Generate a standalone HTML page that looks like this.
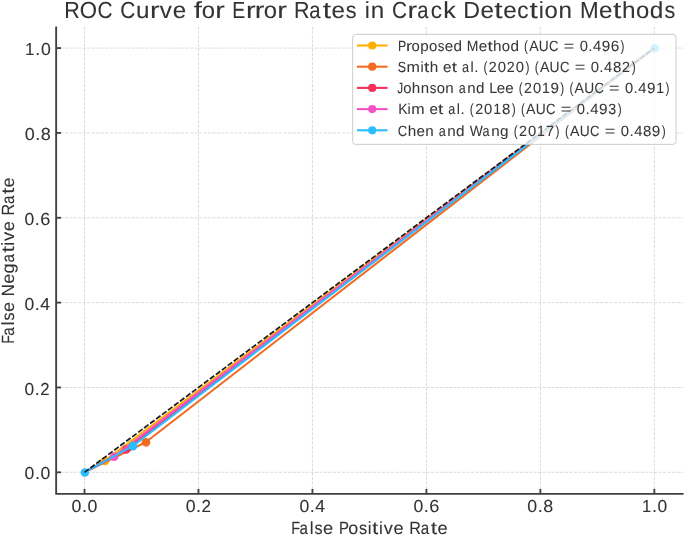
<!DOCTYPE html>
<html><head><meta charset="utf-8"><title>ROC Curve for Error Rates in Crack Detection Methods</title>
<style>
html,body{margin:0;padding:0;background:#fff;overflow:hidden;}
svg{display:block;filter:blur(0.3px);}
text{font-family:"Liberation Sans",sans-serif;fill:#333333;stroke:#333333;stroke-width:0.08px;text-rendering:geometricPrecision;}
.ti text{fill:#333333;stroke:#333333;stroke-width:0.08px;}
.lg text{fill:#363636;stroke:#363636;stroke-width:0.05px;}
</style></head>
<body>
<svg width="685" height="535" viewBox="0 0 685 535">
<rect x="0" y="0" width="685" height="535" fill="#fff"/>
<g stroke="#d4d4d4" stroke-width="0.85" fill="none">
<g stroke-dasharray="3.116 1.347" stroke-dashoffset="-0.05">
<line x1="84.52" y1="493.54" x2="84.52" y2="26.85"/>
<line x1="198.48" y1="493.54" x2="198.48" y2="26.85"/>
<line x1="312.45" y1="493.54" x2="312.45" y2="26.85"/>
<line x1="426.41" y1="493.54" x2="426.41" y2="26.85"/>
<line x1="540.38" y1="493.54" x2="540.38" y2="26.85"/>
<line x1="654.34" y1="493.54" x2="654.34" y2="26.85"/>
</g>
<g stroke-dasharray="3.116 1.347" stroke-dashoffset="-0.03">
<line x1="56.03" y1="472.33" x2="682.83" y2="472.33"/>
<line x1="56.03" y1="387.48" x2="682.83" y2="387.48"/>
<line x1="56.03" y1="302.62" x2="682.83" y2="302.62"/>
<line x1="56.03" y1="217.77" x2="682.83" y2="217.77"/>
<line x1="56.03" y1="132.91" x2="682.83" y2="132.91"/>
<line x1="56.03" y1="48.06" x2="682.83" y2="48.06"/>
</g>
</g>
<polyline points="84.52,472.33 104.65,460.91 654.34,48.06" fill="none" stroke="#FFAF00" stroke-width="2.08" stroke-linejoin="round" stroke-linecap="square"/>
<circle cx="105.00" cy="461.01" r="4.3" fill="#FFAF00"/>
<polyline points="84.52,472.33 145.66,442.23 654.34,48.06" fill="none" stroke="#F26B21" stroke-width="2.08" stroke-linejoin="round" stroke-linecap="square"/>
<circle cx="146.01" cy="442.33" r="4.3" fill="#F26B21"/>
<polyline points="84.52,472.33 125.73,449.45 654.34,48.06" fill="none" stroke="#F5315A" stroke-width="2.08" stroke-linejoin="round" stroke-linecap="square"/>
<circle cx="126.08" cy="449.55" r="4.3" fill="#F5315A"/>
<polyline points="84.52,472.33 113.77,456.67 654.34,48.06" fill="none" stroke="#F652C4" stroke-width="2.08" stroke-linejoin="round" stroke-linecap="square"/>
<circle cx="114.12" cy="456.77" r="4.3" fill="#F652C4"/>
<polyline points="84.52,472.33 132.56,446.05 654.34,48.06" fill="none" stroke="#2ABDFE" stroke-width="2.08" stroke-linejoin="round" stroke-linecap="square"/>
<circle cx="84.87" cy="472.43" r="4.3" fill="#2ABDFE"/>
<circle cx="132.91" cy="446.15" r="4.3" fill="#2ABDFE"/>
<circle cx="654.69" cy="48.16" r="4.3" fill="#2ABDFE"/>
<line x1="84.52" y1="472.33" x2="654.34" y2="48.06" stroke="#1a1a1a" stroke-width="1.7" stroke-dasharray="5.50 1.95" stroke-dashoffset="0.19"/>
<g stroke="#404040" stroke-width="1.85" fill="none">
<path d="M56.15 26.50V493.80H683.60" stroke-linejoin="miter"/>
<line x1="56.15" y1="472.33" x2="61.01" y2="472.33"/>
<line x1="84.52" y1="493.80" x2="84.52" y2="488.94"/>
<line x1="56.15" y1="387.48" x2="61.01" y2="387.48"/>
<line x1="198.48" y1="493.80" x2="198.48" y2="488.94"/>
<line x1="56.15" y1="302.62" x2="61.01" y2="302.62"/>
<line x1="312.45" y1="493.80" x2="312.45" y2="488.94"/>
<line x1="56.15" y1="217.77" x2="61.01" y2="217.77"/>
<line x1="426.41" y1="493.80" x2="426.41" y2="488.94"/>
<line x1="56.15" y1="132.91" x2="61.01" y2="132.91"/>
<line x1="540.38" y1="493.80" x2="540.38" y2="488.94"/>
<line x1="56.15" y1="48.06" x2="61.01" y2="48.06"/>
<line x1="654.34" y1="493.80" x2="654.34" y2="488.94"/>
</g>
<g style="opacity:0.999">
<g font-size="23.30" class="ti"><text x="64.28" y="18.00" textLength="15.52" lengthAdjust="spacingAndGlyphs">R</text><text x="79.68" y="18.00" textLength="17.28" lengthAdjust="spacingAndGlyphs">O</text><text x="97.38" y="18.00" textLength="15.06" lengthAdjust="spacingAndGlyphs">C</text><text x="120.24" y="18.00" textLength="15.06" lengthAdjust="spacingAndGlyphs">C</text><text x="136.08" y="18.00" textLength="13.47" lengthAdjust="spacingAndGlyphs">u</text><text x="150.14" y="18.00" textLength="9.59" lengthAdjust="spacingAndGlyphs">r</text><text x="159.84" y="18.00" textLength="12.13" lengthAdjust="spacingAndGlyphs">v</text><text x="172.78" y="18.00" textLength="13.50" lengthAdjust="spacingAndGlyphs">e</text><text x="193.66" y="18.00" textLength="8.20" lengthAdjust="spacingAndGlyphs">f</text><text x="201.72" y="18.00" textLength="13.29" lengthAdjust="spacingAndGlyphs">o</text><text x="215.38" y="18.00" textLength="9.59" lengthAdjust="spacingAndGlyphs">r</text><text x="232.26" y="18.00" textLength="12.99" lengthAdjust="spacingAndGlyphs">E</text><text x="246.00" y="18.00" textLength="9.59" lengthAdjust="spacingAndGlyphs">r</text><text x="254.87" y="18.00" textLength="9.59" lengthAdjust="spacingAndGlyphs">r</text><text x="263.72" y="18.00" textLength="13.29" lengthAdjust="spacingAndGlyphs">o</text><text x="277.38" y="18.00" textLength="9.59" lengthAdjust="spacingAndGlyphs">r</text><text x="294.09" y="18.00" textLength="15.52" lengthAdjust="spacingAndGlyphs">R</text><text x="309.27" y="18.00" textLength="11.24" lengthAdjust="spacingAndGlyphs">a</text><text x="322.71" y="18.00" textLength="8.34" lengthAdjust="spacingAndGlyphs">t</text><text x="331.59" y="18.00" textLength="13.50" lengthAdjust="spacingAndGlyphs">e</text><text x="345.85" y="18.00" textLength="10.77" lengthAdjust="spacingAndGlyphs">s</text><text x="364.68" y="18.00" textLength="5.10" lengthAdjust="spacingAndGlyphs">i</text><text x="370.78" y="18.00" textLength="13.47" lengthAdjust="spacingAndGlyphs">n</text><text x="391.97" y="18.00" textLength="15.06" lengthAdjust="spacingAndGlyphs">C</text><text x="407.60" y="18.00" textLength="9.59" lengthAdjust="spacingAndGlyphs">r</text><text x="417.21" y="18.00" textLength="11.24" lengthAdjust="spacingAndGlyphs">a</text><text x="430.79" y="18.00" textLength="11.27" lengthAdjust="spacingAndGlyphs">c</text><text x="443.23" y="18.00" textLength="12.56" lengthAdjust="spacingAndGlyphs">k</text><text x="463.36" y="18.00" textLength="16.79" lengthAdjust="spacingAndGlyphs">D</text><text x="480.59" y="18.00" textLength="13.50" lengthAdjust="spacingAndGlyphs">e</text><text x="494.38" y="18.00" textLength="8.34" lengthAdjust="spacingAndGlyphs">t</text><text x="503.26" y="18.00" textLength="13.50" lengthAdjust="spacingAndGlyphs">e</text><text x="517.17" y="18.00" textLength="11.27" lengthAdjust="spacingAndGlyphs">c</text><text x="529.41" y="18.00" textLength="8.34" lengthAdjust="spacingAndGlyphs">t</text><text x="538.66" y="18.00" textLength="5.10" lengthAdjust="spacingAndGlyphs">i</text><text x="544.57" y="18.00" textLength="13.29" lengthAdjust="spacingAndGlyphs">o</text><text x="558.53" y="18.00" textLength="13.47" lengthAdjust="spacingAndGlyphs">n</text><text x="579.88" y="18.00" textLength="18.66" lengthAdjust="spacingAndGlyphs">M</text><text x="599.13" y="18.00" textLength="13.50" lengthAdjust="spacingAndGlyphs">e</text><text x="612.91" y="18.00" textLength="8.34" lengthAdjust="spacingAndGlyphs">t</text><text x="621.93" y="18.00" textLength="13.57" lengthAdjust="spacingAndGlyphs">h</text><text x="636.08" y="18.00" textLength="13.29" lengthAdjust="spacingAndGlyphs">o</text><text x="649.82" y="18.00" textLength="13.58" lengthAdjust="spacingAndGlyphs">d</text><text x="664.51" y="18.00" textLength="10.77" lengthAdjust="spacingAndGlyphs">s</text></g>
<g font-size="17.60"><text x="291.36" y="534.00" textLength="8.86" lengthAdjust="spacingAndGlyphs">F</text><text x="299.44" y="534.00" textLength="8.46" lengthAdjust="spacingAndGlyphs">a</text><text x="309.84" y="534.00" textLength="3.84" lengthAdjust="spacingAndGlyphs">l</text><text x="314.56" y="534.00" textLength="8.11" lengthAdjust="spacingAndGlyphs">s</text><text x="323.05" y="534.00" textLength="10.16" lengthAdjust="spacingAndGlyphs">e</text><text x="339.06" y="534.00" textLength="9.98" lengthAdjust="spacingAndGlyphs">P</text><text x="348.35" y="534.00" textLength="10.00" lengthAdjust="spacingAndGlyphs">o</text><text x="358.96" y="534.00" textLength="8.11" lengthAdjust="spacingAndGlyphs">s</text><text x="367.72" y="534.00" textLength="3.84" lengthAdjust="spacingAndGlyphs">i</text><text x="372.08" y="534.00" textLength="6.28" lengthAdjust="spacingAndGlyphs">t</text><text x="379.02" y="534.00" textLength="3.84" lengthAdjust="spacingAndGlyphs">i</text><text x="383.71" y="534.00" textLength="9.13" lengthAdjust="spacingAndGlyphs">v</text><text x="393.41" y="534.00" textLength="10.16" lengthAdjust="spacingAndGlyphs">e</text><text x="409.33" y="534.00" textLength="11.68" lengthAdjust="spacingAndGlyphs">R</text><text x="420.71" y="534.00" textLength="8.46" lengthAdjust="spacingAndGlyphs">a</text><text x="430.79" y="534.00" textLength="6.28" lengthAdjust="spacingAndGlyphs">t</text><text x="437.45" y="534.00" textLength="10.16" lengthAdjust="spacingAndGlyphs">e</text></g>
<g font-size="17.70" transform="rotate(-90)"><text x="-343.69" y="14.00" textLength="8.83" lengthAdjust="spacingAndGlyphs">F</text><text x="-335.63" y="14.00" textLength="8.43" lengthAdjust="spacingAndGlyphs">a</text><text x="-325.27" y="14.00" textLength="3.83" lengthAdjust="spacingAndGlyphs">l</text><text x="-320.56" y="14.00" textLength="8.08" lengthAdjust="spacingAndGlyphs">s</text><text x="-312.11" y="14.00" textLength="10.13" lengthAdjust="spacingAndGlyphs">e</text><text x="-296.29" y="14.00" textLength="12.02" lengthAdjust="spacingAndGlyphs">N</text><text x="-283.84" y="14.00" textLength="10.13" lengthAdjust="spacingAndGlyphs">e</text><text x="-273.49" y="14.00" textLength="10.19" lengthAdjust="spacingAndGlyphs">g</text><text x="-262.61" y="14.00" textLength="8.43" lengthAdjust="spacingAndGlyphs">a</text><text x="-252.57" y="14.00" textLength="6.26" lengthAdjust="spacingAndGlyphs">t</text><text x="-245.65" y="14.00" textLength="3.83" lengthAdjust="spacingAndGlyphs">i</text><text x="-240.97" y="14.00" textLength="9.10" lengthAdjust="spacingAndGlyphs">v</text><text x="-231.31" y="14.00" textLength="10.13" lengthAdjust="spacingAndGlyphs">e</text><text x="-215.44" y="14.00" textLength="11.64" lengthAdjust="spacingAndGlyphs">R</text><text x="-204.10" y="14.00" textLength="8.43" lengthAdjust="spacingAndGlyphs">a</text><text x="-194.05" y="14.00" textLength="6.26" lengthAdjust="spacingAndGlyphs">t</text><text x="-187.42" y="14.00" textLength="10.13" lengthAdjust="spacingAndGlyphs">e</text></g>
<g font-size="17.40"><text x="24.57" y="479.00" textLength="9.80" lengthAdjust="spacingAndGlyphs">0</text><text x="34.91" y="479.00" textLength="5.03" lengthAdjust="spacingAndGlyphs">.</text><text x="40.49" y="479.00" textLength="9.80" lengthAdjust="spacingAndGlyphs">0</text></g>
<g font-size="17.40"><text x="24.58" y="395.00" textLength="9.66" lengthAdjust="spacingAndGlyphs">0</text><text x="34.77" y="395.00" textLength="4.96" lengthAdjust="spacingAndGlyphs">.</text><text x="40.23" y="395.00" textLength="9.32" lengthAdjust="spacingAndGlyphs">2</text></g>
<g font-size="17.40"><text x="24.41" y="310.00" textLength="9.76" lengthAdjust="spacingAndGlyphs">0</text><text x="34.70" y="310.00" textLength="5.00" lengthAdjust="spacingAndGlyphs">.</text><text x="40.25" y="310.00" textLength="9.76" lengthAdjust="spacingAndGlyphs">4</text></g>
<g font-size="17.40"><text x="24.58" y="225.00" textLength="9.74" lengthAdjust="spacingAndGlyphs">0</text><text x="34.84" y="225.00" textLength="4.99" lengthAdjust="spacingAndGlyphs">.</text><text x="40.22" y="225.00" textLength="10.08" lengthAdjust="spacingAndGlyphs">6</text></g>
<g font-size="17.40"><text x="24.70" y="140.00" textLength="9.96" lengthAdjust="spacingAndGlyphs">0</text><text x="35.20" y="140.00" textLength="5.11" lengthAdjust="spacingAndGlyphs">.</text><text x="40.82" y="140.00" textLength="10.07" lengthAdjust="spacingAndGlyphs">8</text></g>
<g font-size="17.40"><text x="25.11" y="55.00" textLength="9.40" lengthAdjust="spacingAndGlyphs">1</text><text x="35.35" y="55.00" textLength="5.05" lengthAdjust="spacingAndGlyphs">.</text><text x="40.95" y="55.00" textLength="9.84" lengthAdjust="spacingAndGlyphs">0</text></g>
<g font-size="17.40"><text x="71.51" y="512.00" textLength="9.87" lengthAdjust="spacingAndGlyphs">0</text><text x="81.91" y="512.00" textLength="5.06" lengthAdjust="spacingAndGlyphs">.</text><text x="87.53" y="512.00" textLength="9.87" lengthAdjust="spacingAndGlyphs">0</text></g>
<g font-size="17.40"><text x="185.71" y="512.00" textLength="9.81" lengthAdjust="spacingAndGlyphs">0</text><text x="196.06" y="512.00" textLength="5.03" lengthAdjust="spacingAndGlyphs">.</text><text x="201.60" y="512.00" textLength="9.46" lengthAdjust="spacingAndGlyphs">2</text></g>
<g font-size="17.40"><text x="299.41" y="512.00" textLength="9.80" lengthAdjust="spacingAndGlyphs">0</text><text x="309.74" y="512.00" textLength="5.02" lengthAdjust="spacingAndGlyphs">.</text><text x="315.32" y="512.00" textLength="9.80" lengthAdjust="spacingAndGlyphs">4</text></g>
<g font-size="17.40"><text x="413.41" y="512.00" textLength="9.80" lengthAdjust="spacingAndGlyphs">0</text><text x="423.75" y="512.00" textLength="5.03" lengthAdjust="spacingAndGlyphs">.</text><text x="429.15" y="512.00" textLength="10.15" lengthAdjust="spacingAndGlyphs">6</text></g>
<g font-size="17.40"><text x="527.31" y="512.00" textLength="9.84" lengthAdjust="spacingAndGlyphs">0</text><text x="537.68" y="512.00" textLength="5.05" lengthAdjust="spacingAndGlyphs">.</text><text x="543.23" y="512.00" textLength="9.95" lengthAdjust="spacingAndGlyphs">8</text></g>
<g font-size="17.40"><text x="641.93" y="512.00" textLength="9.24" lengthAdjust="spacingAndGlyphs">1</text><text x="652.00" y="512.00" textLength="4.96" lengthAdjust="spacingAndGlyphs">.</text><text x="657.50" y="512.00" textLength="9.68" lengthAdjust="spacingAndGlyphs">0</text></g>
</g>
<rect x="352.70" y="34.35" width="323.30" height="110.00" rx="3.0" ry="3.0" fill="#fff" fill-opacity="0.8" stroke="#cccccc" stroke-width="1.0"/>
<line x1="358.00" y1="45.50" x2="386.50" y2="45.50" stroke="#FFAF00" stroke-width="2.08" stroke-linecap="square"/>
<circle cx="372.25" cy="45.50" r="4.1" fill="#FFAF00"/>
<line x1="358.00" y1="66.70" x2="386.50" y2="66.70" stroke="#F26B21" stroke-width="2.08" stroke-linecap="square"/>
<circle cx="372.25" cy="66.70" r="4.1" fill="#F26B21"/>
<line x1="358.00" y1="87.90" x2="386.50" y2="87.90" stroke="#F5315A" stroke-width="2.08" stroke-linecap="square"/>
<circle cx="372.25" cy="87.90" r="4.1" fill="#F5315A"/>
<line x1="358.00" y1="109.10" x2="386.50" y2="109.10" stroke="#F652C4" stroke-width="2.08" stroke-linecap="square"/>
<circle cx="372.25" cy="109.10" r="4.1" fill="#F652C4"/>
<line x1="358.00" y1="130.30" x2="386.50" y2="130.30" stroke="#2ABDFE" stroke-width="2.08" stroke-linecap="square"/>
<circle cx="372.25" cy="130.30" r="4.1" fill="#2ABDFE"/>
<g style="opacity:0.999">
<g font-size="14.80" class="lg"><text x="397.98" y="51.00" textLength="8.27" lengthAdjust="spacingAndGlyphs">P</text><text x="405.90" y="51.00" textLength="5.98" lengthAdjust="spacingAndGlyphs">r</text><text x="411.47" y="51.00" textLength="8.29" lengthAdjust="spacingAndGlyphs">o</text><text x="420.19" y="51.00" textLength="8.48" lengthAdjust="spacingAndGlyphs">p</text><text x="428.94" y="51.00" textLength="8.29" lengthAdjust="spacingAndGlyphs">o</text><text x="437.74" y="51.00" textLength="6.72" lengthAdjust="spacingAndGlyphs">s</text><text x="444.79" y="51.00" textLength="8.42" lengthAdjust="spacingAndGlyphs">e</text><text x="453.41" y="51.00" textLength="8.48" lengthAdjust="spacingAndGlyphs">d</text><text x="466.85" y="51.00" textLength="11.65" lengthAdjust="spacingAndGlyphs">M</text><text x="478.83" y="51.00" textLength="8.42" lengthAdjust="spacingAndGlyphs">e</text><text x="487.42" y="51.00" textLength="5.21" lengthAdjust="spacingAndGlyphs">t</text><text x="493.03" y="51.00" textLength="8.47" lengthAdjust="spacingAndGlyphs">h</text><text x="501.84" y="51.00" textLength="8.29" lengthAdjust="spacingAndGlyphs">o</text><text x="510.40" y="51.00" textLength="8.48" lengthAdjust="spacingAndGlyphs">d</text><text x="524.08" y="51.00" textLength="3.95" lengthAdjust="spacingAndGlyphs">(</text><text x="529.16" y="51.00" textLength="9.42" lengthAdjust="spacingAndGlyphs">A</text><text x="538.81" y="51.00" textLength="9.95" lengthAdjust="spacingAndGlyphs">U</text><text x="549.04" y="51.00" textLength="9.40" lengthAdjust="spacingAndGlyphs">C</text><text x="563.75" y="51.00" textLength="10.55" lengthAdjust="spacingAndGlyphs">=</text><text x="579.68" y="51.00" textLength="8.22" lengthAdjust="spacingAndGlyphs">0</text><text x="588.36" y="51.00" textLength="4.22" lengthAdjust="spacingAndGlyphs">.</text><text x="593.04" y="51.00" textLength="8.22" lengthAdjust="spacingAndGlyphs">4</text><text x="601.78" y="51.00" textLength="8.49" lengthAdjust="spacingAndGlyphs">9</text><text x="610.72" y="51.00" textLength="8.51" lengthAdjust="spacingAndGlyphs">6</text><text x="620.49" y="51.00" textLength="3.95" lengthAdjust="spacingAndGlyphs">)</text></g>
<g font-size="14.80" class="lg"><text x="397.83" y="72.00" textLength="8.38" lengthAdjust="spacingAndGlyphs">S</text><text x="406.62" y="72.00" textLength="13.37" lengthAdjust="spacingAndGlyphs">m</text><text x="420.48" y="72.00" textLength="3.20" lengthAdjust="spacingAndGlyphs">i</text><text x="424.12" y="72.00" textLength="5.23" lengthAdjust="spacingAndGlyphs">t</text><text x="429.76" y="72.00" textLength="8.51" lengthAdjust="spacingAndGlyphs">h</text><text x="443.07" y="72.00" textLength="8.46" lengthAdjust="spacingAndGlyphs">e</text><text x="451.69" y="72.00" textLength="5.23" lengthAdjust="spacingAndGlyphs">t</text><text x="461.89" y="72.00" textLength="7.05" lengthAdjust="spacingAndGlyphs">a</text><text x="470.57" y="72.00" textLength="3.20" lengthAdjust="spacingAndGlyphs">l</text><text x="474.24" y="72.00" textLength="4.24" lengthAdjust="spacingAndGlyphs">.</text><text x="483.54" y="72.00" textLength="3.97" lengthAdjust="spacingAndGlyphs">(</text><text x="488.87" y="72.00" textLength="7.96" lengthAdjust="spacingAndGlyphs">2</text><text x="497.86" y="72.00" textLength="8.26" lengthAdjust="spacingAndGlyphs">0</text><text x="506.78" y="72.00" textLength="7.96" lengthAdjust="spacingAndGlyphs">2</text><text x="515.77" y="72.00" textLength="8.26" lengthAdjust="spacingAndGlyphs">0</text><text x="525.43" y="72.00" textLength="3.97" lengthAdjust="spacingAndGlyphs">)</text><text x="534.81" y="72.00" textLength="3.97" lengthAdjust="spacingAndGlyphs">(</text><text x="539.91" y="72.00" textLength="9.47" lengthAdjust="spacingAndGlyphs">A</text><text x="549.61" y="72.00" textLength="10.00" lengthAdjust="spacingAndGlyphs">U</text><text x="559.89" y="72.00" textLength="9.44" lengthAdjust="spacingAndGlyphs">C</text><text x="574.67" y="72.00" textLength="10.60" lengthAdjust="spacingAndGlyphs">=</text><text x="590.67" y="72.00" textLength="8.26" lengthAdjust="spacingAndGlyphs">0</text><text x="599.39" y="72.00" textLength="4.24" lengthAdjust="spacingAndGlyphs">.</text><text x="604.10" y="72.00" textLength="8.26" lengthAdjust="spacingAndGlyphs">4</text><text x="613.01" y="72.00" textLength="8.35" lengthAdjust="spacingAndGlyphs">8</text><text x="621.97" y="72.00" textLength="7.96" lengthAdjust="spacingAndGlyphs">2</text><text x="631.67" y="72.00" textLength="3.97" lengthAdjust="spacingAndGlyphs">)</text></g>
<g font-size="14.80" class="lg"><text x="397.32" y="93.00" textLength="5.92" lengthAdjust="spacingAndGlyphs">J</text><text x="403.19" y="93.00" textLength="8.26" lengthAdjust="spacingAndGlyphs">o</text><text x="411.80" y="93.00" textLength="8.44" lengthAdjust="spacingAndGlyphs">h</text><text x="420.70" y="93.00" textLength="8.38" lengthAdjust="spacingAndGlyphs">n</text><text x="429.66" y="93.00" textLength="6.70" lengthAdjust="spacingAndGlyphs">s</text><text x="436.69" y="93.00" textLength="8.26" lengthAdjust="spacingAndGlyphs">o</text><text x="445.36" y="93.00" textLength="8.38" lengthAdjust="spacingAndGlyphs">n</text><text x="458.68" y="93.00" textLength="6.99" lengthAdjust="spacingAndGlyphs">a</text><text x="467.19" y="93.00" textLength="8.38" lengthAdjust="spacingAndGlyphs">n</text><text x="475.90" y="93.00" textLength="8.45" lengthAdjust="spacingAndGlyphs">d</text><text x="489.26" y="93.00" textLength="7.99" lengthAdjust="spacingAndGlyphs">L</text><text x="496.72" y="93.00" textLength="8.39" lengthAdjust="spacingAndGlyphs">e</text><text x="505.31" y="93.00" textLength="8.39" lengthAdjust="spacingAndGlyphs">e</text><text x="518.67" y="93.00" textLength="3.94" lengthAdjust="spacingAndGlyphs">(</text><text x="523.96" y="93.00" textLength="7.90" lengthAdjust="spacingAndGlyphs">2</text><text x="532.88" y="93.00" textLength="8.19" lengthAdjust="spacingAndGlyphs">0</text><text x="541.88" y="93.00" textLength="7.82" lengthAdjust="spacingAndGlyphs">1</text><text x="550.46" y="93.00" textLength="8.46" lengthAdjust="spacingAndGlyphs">9</text><text x="560.22" y="93.00" textLength="3.94" lengthAdjust="spacingAndGlyphs">)</text><text x="569.52" y="93.00" textLength="3.94" lengthAdjust="spacingAndGlyphs">(</text><text x="574.59" y="93.00" textLength="9.39" lengthAdjust="spacingAndGlyphs">A</text><text x="584.21" y="93.00" textLength="9.92" lengthAdjust="spacingAndGlyphs">U</text><text x="594.40" y="93.00" textLength="9.37" lengthAdjust="spacingAndGlyphs">C</text><text x="609.06" y="93.00" textLength="10.51" lengthAdjust="spacingAndGlyphs">=</text><text x="624.93" y="93.00" textLength="8.19" lengthAdjust="spacingAndGlyphs">0</text><text x="633.58" y="93.00" textLength="4.20" lengthAdjust="spacingAndGlyphs">.</text><text x="638.25" y="93.00" textLength="8.19" lengthAdjust="spacingAndGlyphs">4</text><text x="646.95" y="93.00" textLength="8.46" lengthAdjust="spacingAndGlyphs">9</text><text x="656.13" y="93.00" textLength="7.82" lengthAdjust="spacingAndGlyphs">1</text><text x="665.60" y="93.00" textLength="3.94" lengthAdjust="spacingAndGlyphs">)</text></g>
<g font-size="14.80" class="lg"><text x="398.24" y="114.00" textLength="9.46" lengthAdjust="spacingAndGlyphs">K</text><text x="407.60" y="114.00" textLength="3.19" lengthAdjust="spacingAndGlyphs">i</text><text x="411.35" y="114.00" textLength="13.35" lengthAdjust="spacingAndGlyphs">m</text><text x="429.42" y="114.00" textLength="8.45" lengthAdjust="spacingAndGlyphs">e</text><text x="438.02" y="114.00" textLength="5.22" lengthAdjust="spacingAndGlyphs">t</text><text x="448.21" y="114.00" textLength="7.03" lengthAdjust="spacingAndGlyphs">a</text><text x="456.87" y="114.00" textLength="3.19" lengthAdjust="spacingAndGlyphs">l</text><text x="460.53" y="114.00" textLength="4.23" lengthAdjust="spacingAndGlyphs">.</text><text x="469.82" y="114.00" textLength="3.96" lengthAdjust="spacingAndGlyphs">(</text><text x="475.14" y="114.00" textLength="7.95" lengthAdjust="spacingAndGlyphs">2</text><text x="484.11" y="114.00" textLength="8.24" lengthAdjust="spacingAndGlyphs">0</text><text x="493.17" y="114.00" textLength="7.87" lengthAdjust="spacingAndGlyphs">1</text><text x="501.94" y="114.00" textLength="8.33" lengthAdjust="spacingAndGlyphs">8</text><text x="511.63" y="114.00" textLength="3.96" lengthAdjust="spacingAndGlyphs">)</text><text x="520.99" y="114.00" textLength="3.96" lengthAdjust="spacingAndGlyphs">(</text><text x="526.08" y="114.00" textLength="9.45" lengthAdjust="spacingAndGlyphs">A</text><text x="535.77" y="114.00" textLength="9.98" lengthAdjust="spacingAndGlyphs">U</text><text x="546.02" y="114.00" textLength="9.43" lengthAdjust="spacingAndGlyphs">C</text><text x="560.77" y="114.00" textLength="10.58" lengthAdjust="spacingAndGlyphs">=</text><text x="576.75" y="114.00" textLength="8.24" lengthAdjust="spacingAndGlyphs">0</text><text x="585.46" y="114.00" textLength="4.23" lengthAdjust="spacingAndGlyphs">.</text><text x="590.16" y="114.00" textLength="8.25" lengthAdjust="spacingAndGlyphs">4</text><text x="598.91" y="114.00" textLength="8.52" lengthAdjust="spacingAndGlyphs">9</text><text x="608.21" y="114.00" textLength="7.92" lengthAdjust="spacingAndGlyphs">3</text><text x="617.68" y="114.00" textLength="3.96" lengthAdjust="spacingAndGlyphs">)</text></g>
<g font-size="14.80" class="lg"><text x="397.74" y="136.00" textLength="9.43" lengthAdjust="spacingAndGlyphs">C</text><text x="407.65" y="136.00" textLength="8.50" lengthAdjust="spacingAndGlyphs">h</text><text x="416.47" y="136.00" textLength="8.45" lengthAdjust="spacingAndGlyphs">e</text><text x="425.26" y="136.00" textLength="8.44" lengthAdjust="spacingAndGlyphs">n</text><text x="438.67" y="136.00" textLength="7.04" lengthAdjust="spacingAndGlyphs">a</text><text x="447.25" y="136.00" textLength="8.44" lengthAdjust="spacingAndGlyphs">n</text><text x="456.03" y="136.00" textLength="8.51" lengthAdjust="spacingAndGlyphs">d</text><text x="469.69" y="136.00" textLength="13.10" lengthAdjust="spacingAndGlyphs">W</text><text x="482.61" y="136.00" textLength="7.04" lengthAdjust="spacingAndGlyphs">a</text><text x="491.19" y="136.00" textLength="8.44" lengthAdjust="spacingAndGlyphs">n</text><text x="499.96" y="136.00" textLength="8.51" lengthAdjust="spacingAndGlyphs">g</text><text x="513.69" y="136.00" textLength="3.96" lengthAdjust="spacingAndGlyphs">(</text><text x="519.02" y="136.00" textLength="7.95" lengthAdjust="spacingAndGlyphs">2</text><text x="528.00" y="136.00" textLength="8.25" lengthAdjust="spacingAndGlyphs">0</text><text x="537.06" y="136.00" textLength="7.88" lengthAdjust="spacingAndGlyphs">1</text><text x="545.95" y="136.00" textLength="8.07" lengthAdjust="spacingAndGlyphs">7</text><text x="555.54" y="136.00" textLength="3.96" lengthAdjust="spacingAndGlyphs">)</text><text x="564.91" y="136.00" textLength="3.96" lengthAdjust="spacingAndGlyphs">(</text><text x="570.01" y="136.00" textLength="9.46" lengthAdjust="spacingAndGlyphs">A</text><text x="579.70" y="136.00" textLength="9.99" lengthAdjust="spacingAndGlyphs">U</text><text x="589.96" y="136.00" textLength="9.43" lengthAdjust="spacingAndGlyphs">C</text><text x="604.73" y="136.00" textLength="10.59" lengthAdjust="spacingAndGlyphs">=</text><text x="620.72" y="136.00" textLength="8.25" lengthAdjust="spacingAndGlyphs">0</text><text x="629.43" y="136.00" textLength="4.23" lengthAdjust="spacingAndGlyphs">.</text><text x="634.13" y="136.00" textLength="8.25" lengthAdjust="spacingAndGlyphs">4</text><text x="643.03" y="136.00" textLength="8.34" lengthAdjust="spacingAndGlyphs">8</text><text x="651.84" y="136.00" textLength="8.52" lengthAdjust="spacingAndGlyphs">9</text><text x="661.68" y="136.00" textLength="3.96" lengthAdjust="spacingAndGlyphs">)</text></g>
</g>
</svg>
</body></html>
